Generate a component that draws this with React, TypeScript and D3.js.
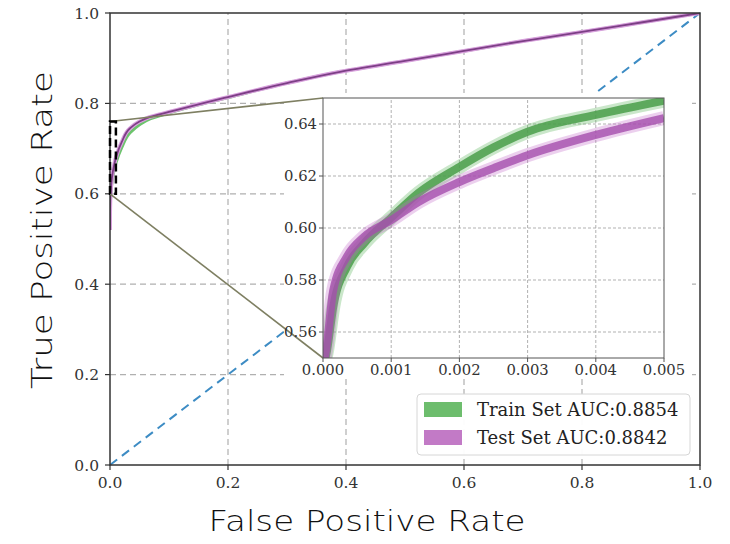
import React from "react";
import * as d3 from "d3";

// ---- data ----
const mainTicks = [0, 0.2, 0.4, 0.6, 0.8, 1.0];
const mainTickLabels = ["0.0", "0.2", "0.4", "0.6", "0.8", "1.0"];

const mainFpr = [0, 0, 0.002, 0.005, 0.01, 0.02, 0.034, 0.05, 0.068, 0.1, 0.15, 0.2, 0.3, 0.39, 0.5, 0.6, 0.7, 0.8, 0.9, 1.0];
const mainTprTest = [0.52, 0.56, 0.62, 0.65, 0.68, 0.715, 0.745, 0.76, 0.77, 0.781, 0.798, 0.814, 0.845, 0.87, 0.894, 0.916, 0.938, 0.958, 0.979, 1.0];
const mainTprTrain = [0.52, 0.55, 0.61, 0.64, 0.668, 0.703, 0.735, 0.753, 0.766, 0.779, 0.797, 0.813, 0.845, 0.87, 0.894, 0.916, 0.938, 0.958, 0.979, 1.0];

const insetFpr = [0, 0.00006, 0.00015, 0.00035, 0.0006, 0.001, 0.0014, 0.002, 0.0025, 0.003, 0.004, 0.005];
const insetTprTrain = [0.546, 0.553, 0.5696, 0.585, 0.594, 0.604, 0.6135, 0.6235, 0.631, 0.637, 0.6435, 0.649];
const insetTprTest = [0.546, 0.556, 0.576, 0.589, 0.5966, 0.603, 0.61, 0.6177, 0.623, 0.628, 0.6358, 0.6423];

const insetXTicks = [0, 0.001, 0.002, 0.003, 0.004, 0.005];
const insetXTickLabels = ["0.000", "0.001", "0.002", "0.003", "0.004", "0.005"];
const insetYTicks = [0.56, 0.58, 0.6, 0.62, 0.64];
const insetYTickLabels = ["0.56", "0.58", "0.60", "0.62", "0.64"];

const zoomBoxX = [0, 0.01];
const zoomBoxY = [0.6, 0.76];

const legendLabels = ["Train Set AUC:0.8854", "Test Set AUC:0.8842"];
const legendColors = ["#6dbd6d", "#c27ac6"];

const xTitle = "False Positive Rate";
const yTitle = "True Positive Rate";

export default function App() {
  const x = d3.scaleLinear().domain([0, 1]).range([110, 700]);
  const y = d3.scaleLinear().domain([0, 1]).range([465, 13]);
  const xi = d3.scaleLinear().domain([0, 0.005]).range([323, 664]);
  const yi = d3.scaleLinear().domain([0.55, 0.65]).range([358, 98]);

  const mainLine = (ys: number[]) =>
    d3.line<number>().x((_, i) => x(mainFpr[i])).y((d) => y(d)).curve(d3.curveMonotoneY)(ys) || "";
  const insetLine = (ys: number[]) =>
    d3.line<number>().x((_, i) => xi(insetFpr[i])).y((d) => yi(d)).curve(d3.curveMonotoneX)(ys) || "";

  const serif = "DejaVu Serif";
  const tickColor = "#333";

  return (
    <svg width={730} height={544} style={{ position: "absolute", left: 0, top: 0, background: "#fff" }}>
      <defs>
        <clipPath id="mainClip">
          <rect x={110} y={13} width={590} height={452} />
        </clipPath>
        <clipPath id="insetClip">
          <rect x={xi(0)} y={yi(0.65)} width={xi(0.005) - xi(0)} height={yi(0.55) - yi(0.65)} />
        </clipPath>
      </defs>

      {/* main grid */}
      {mainTicks.slice(1, 5).map((t) => (
        <line key={"gx" + t} x1={x(t)} x2={x(t)} y1={y(0)} y2={y(1)} stroke="#b0b0b0" strokeWidth={1.2} strokeDasharray="6,4" />
      ))}
      {mainTicks.slice(1, 5).map((t) => (
        <line key={"gy" + t} x1={x(0)} x2={x(1)} y1={y(t)} y2={y(t)} stroke="#b0b0b0" strokeWidth={1.2} strokeDasharray="6,4" />
      ))}

      {/* chance diagonal */}
      <line x1={x(0)} y1={y(0)} x2={x(1)} y2={y(1)} stroke="#3d8cc4" strokeWidth={2} strokeDasharray="9,6" />

      {/* main curves */}
      <g clipPath="url(#mainClip)">
        <path d={mainLine(mainTprTrain)} fill="none" stroke="#6cc46c" strokeWidth={3} />
        <path d={mainLine(mainTprTest)} fill="none" stroke="#d9a0de" strokeWidth={4} />
        <path d={mainLine(mainTprTest)} fill="none" stroke="#7d3f86" strokeWidth={1.8} />
      </g>

      {/* main spines */}
      <rect x={110} y={13} width={590} height={452} fill="none" stroke="#333" strokeWidth={1.5} />

      {/* main ticks */}
      {mainTicks.map((t, i) => (
        <g key={"tx" + t}>
          <line x1={x(t)} x2={x(t)} y1={465} y2={470} stroke="#333" strokeWidth={1.2} />
          <text x={x(t)} y={488} textAnchor="middle" fontFamily={serif} fontSize={15.5} fill={tickColor}>
            {mainTickLabels[i]}
          </text>
        </g>
      ))}
      {mainTicks.map((t, i) => (
        <g key={"ty" + t}>
          <line x1={105} x2={110} y1={y(t)} y2={y(t)} stroke="#333" strokeWidth={1.2} />
          <text x={99} y={y(t) + 5.5} textAnchor="end" fontFamily={serif} fontSize={15.5} fill={tickColor}>
            {mainTickLabels[i]}
          </text>
        </g>
      ))}

      {/* pasted inset patch background */}
      <rect x={284} y={93} width={408} height={286} fill="#fff" />

      {/* connector lines */}
      <line x1={x(zoomBoxX[0])} y1={y(zoomBoxY[1])} x2={xi(0)} y2={yi(0.65)} stroke="#7e7f62" strokeWidth={1.6} />
      <line x1={x(zoomBoxX[0])} y1={y(zoomBoxY[0])} x2={xi(0)} y2={yi(0.55)} stroke="#7e7f62" strokeWidth={1.6} />

      {/* zoom box */}
      <rect
        x={x(zoomBoxX[0])}
        y={y(zoomBoxY[1])}
        width={x(zoomBoxX[1]) - x(zoomBoxX[0])}
        height={y(zoomBoxY[0]) - y(zoomBoxY[1])}
        fill="none"
        stroke="#000"
        strokeWidth={2.5}
        strokeDasharray="8,4"
      />

      {/* inset */}
      <rect x={xi(0)} y={yi(0.65)} width={xi(0.005) - xi(0)} height={yi(0.55) - yi(0.65)} fill="#fff" />
      {insetXTicks.slice(1, 5).map((t) => (
        <line key={"igx" + t} x1={xi(t)} x2={xi(t)} y1={yi(0.55)} y2={yi(0.65)} stroke="#a8a8a8" strokeWidth={0.9} strokeDasharray="3,2" />
      ))}
      {insetYTicks.map((t) => (
        <line key={"igy" + t} x1={xi(0)} x2={xi(0.005)} y1={yi(t)} y2={yi(t)} stroke="#a8a8a8" strokeWidth={0.9} strokeDasharray="3,2" />
      ))}
      <g clipPath="url(#insetClip)">
        <path d={insetLine(insetTprTrain)} fill="none" stroke="#4fae4f" strokeOpacity={0.3} strokeWidth={14} />
        <path d={insetLine(insetTprTrain)} fill="none" stroke="#4a9e4a" strokeOpacity={0.85} strokeWidth={8} />
        <path d={insetLine(insetTprTest)} fill="none" stroke="#c064c8" strokeOpacity={0.3} strokeWidth={14} />
        <path d={insetLine(insetTprTest)} fill="none" stroke="#a54ead" strokeOpacity={0.8} strokeWidth={8} />
      </g>
      <rect x={xi(0)} y={yi(0.65)} width={xi(0.005) - xi(0)} height={yi(0.55) - yi(0.65)} fill="none" stroke="#555" strokeWidth={1} />
      {insetXTicks.map((t, i) => (
        <g key={"itx" + t}>
          <line x1={xi(t)} x2={xi(t)} y1={yi(0.55)} y2={yi(0.55) + 4} stroke="#555" strokeWidth={1} />
          <text x={xi(t)} y={375} textAnchor="middle" fontFamily={serif} fontSize={14.8} fill={tickColor}>
            {insetXTickLabels[i]}
          </text>
        </g>
      ))}
      {insetYTicks.map((t, i) => (
        <g key={"ity" + t}>
          <line x1={xi(0) - 4} x2={xi(0)} y1={yi(t)} y2={yi(t)} stroke="#555" strokeWidth={1} />
          <text x={317} y={yi(t) + 5.3} textAnchor="end" fontFamily={serif} fontSize={14.8} fill={tickColor}>
            {insetYTickLabels[i]}
          </text>
        </g>
      ))}

      {/* legend */}
      <rect x={417} y={394} width={273} height={61} rx={4} fill="#fff" fillOpacity={0.95} stroke="#d6d6d6" strokeWidth={1} />
      {legendLabels.map((lab, i) => (
        <g key={lab}>
          <rect x={424} y={402 + i * 28} width={38} height={15} fill={legendColors[i]} />
          <text x={477} y={416 + i * 28} fontFamily={serif} fontSize={18} fill="#222">
            {lab}
          </text>
        </g>
      ))}

      {/* axis titles */}
      <text x={367} y={531} textAnchor="middle" fontFamily="DejaVu Sans" fontWeight={200} fontSize={28} textLength={317} lengthAdjust="spacingAndGlyphs" fill="#111">
        {xTitle}
      </text>
      <text
        transform={`translate(52,230) rotate(-90)`}
        textAnchor="middle"
        fontFamily="DejaVu Sans"
        fontWeight={200}
        fontSize={28}
        textLength={318}
        lengthAdjust="spacingAndGlyphs"
        fill="#111"
      >
        {yTitle}
      </text>
    </svg>
  );
}
